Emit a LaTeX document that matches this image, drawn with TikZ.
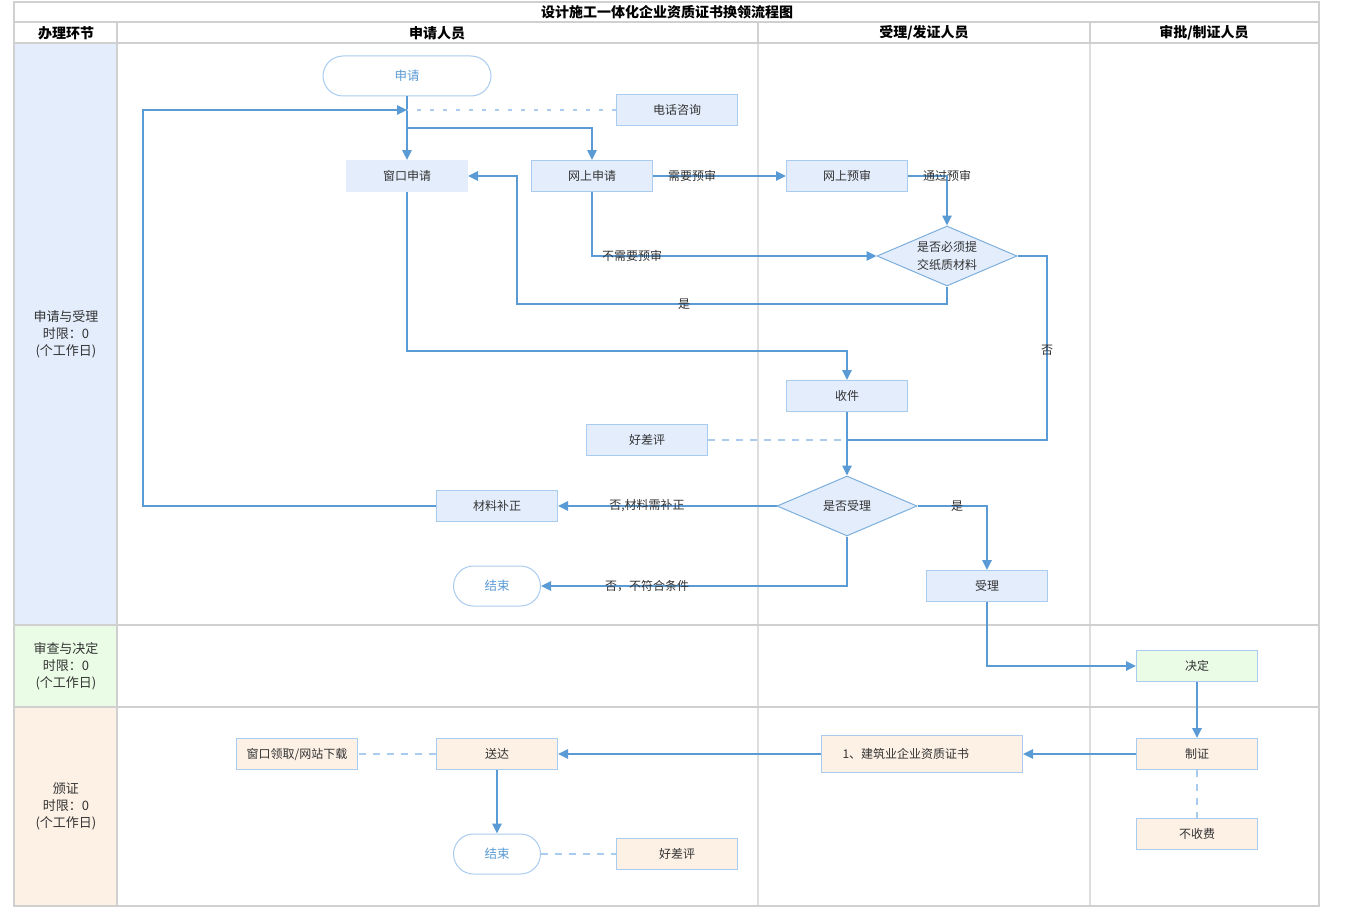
\documentclass[tikz,border=0pt]{standalone}
\usepackage{fontspec}
\setmainfont{Noto Sans CJK SC}
\usetikzlibrary{arrows.meta,shapes.geometric}
\definecolor{lineblue}{HTML}{5B9BD5}
\definecolor{dashblue}{HTML}{A8CBEE}
\definecolor{boxline}{HTML}{A9CBEF}
\definecolor{bluefill}{HTML}{E3EDFC}
\definecolor{greenfill}{HTML}{EAFCE6}
\definecolor{orangefill}{HTML}{FDF1E6}
\definecolor{grid}{HTML}{D0D0D0}
\definecolor{gridlight}{HTML}{DEDEDE}
\definecolor{txt}{HTML}{333333}
\begin{document}
\begin{tikzpicture}[x=1pt,y=-1pt,
  box/.style={draw=boxline, fill=bluefill, line width=1pt, minimum width=121pt, minimum height=31pt, inner sep=0pt, text=txt, font=\fontsize{12}{14}\selectfont},
  gbox/.style={box, fill=greenfill},
  obox/.style={box, fill=orangefill},
  term/.style={draw=boxline, fill=white, line width=1pt, rounded corners=20pt, minimum height=40pt, inner sep=0pt, text=lineblue, font=\fontsize{12.5}{14}\selectfont},
  dec/.style={diamond, draw=lineblue!80, fill=bluefill, line width=1pt, aspect=2.33, inner sep=0pt, minimum width=140pt, minimum height=60pt, text=txt, font=\fontsize{12}{18}\selectfont, align=center},
  flow/.style={draw=lineblue, line width=1.7pt, -{Triangle[length=10pt,width=9.5pt]}},
  plain/.style={draw=lineblue, line width=1.7pt},
  dline/.style={draw=dashblue, line width=1.7pt, dash pattern=on 7pt off 7pt},
  lbl/.style={inner sep=0pt, text=txt, font=\fontsize{12}{14}\selectfont},
  hdr/.style={inner sep=0pt, text=black, font=\fontsize{14}{16}\selectfont\bfseries},
  lane/.style={inner sep=0pt, text=txt, align=center, font=\fontsize{13}{17}\selectfont}
]
\useasboundingbox (0,0) rectangle (1350,907);
% lane label backgrounds
\fill[bluefill] (15,43) rectangle (117,625);
\fill[greenfill] (15,625) rectangle (117,707);
\fill[orangefill] (15,707) rectangle (117,906);
% inner column lines
\draw[gridlight, line width=1.5pt] (758,43) -- (758,906);
\draw[gridlight, line width=1.5pt] (1090,43) -- (1090,906);
% table lines
\draw[grid, line width=2pt] (14,2) rectangle (1319,906);
\draw[grid, line width=2pt] (14,22) -- (1319,22);
\draw[grid, line width=2pt] (14,43) -- (1319,43);
\draw[grid, line width=2pt] (14,625) -- (1319,625);
\draw[grid, line width=2pt] (14,707) -- (1319,707);
\draw[grid, line width=2pt] (117,22) -- (117,906);
\draw[grid, line width=2pt] (758,22) -- (758,43);
\draw[grid, line width=2pt] (1090,22) -- (1090,43);
% headers
\node[hdr] (title) at (667,12.5) {设计施工一体化企业资质证书换领流程图};
\node[hdr] (h0) at (66,33) {办理环节};
\node[hdr] (h1) at (437,33) {申请人员};
\node[hdr] (h2) at (924,33) {受理/发证人员};
\node[hdr] (h3) at (1204,33) {审批/制证人员};
\node[lane] (l1) at (66,334) {申请与受理\\时限：0\\(个工作日)};
\node[lane] (l2) at (66,666) {审查与决定\\时限：0\\(个工作日)};
\node[lane] (l3) at (66,806) {颁证\\时限：0\\(个工作日)};
% nodes
\node[term, minimum width=168pt] (start) at (407,76) {申请};
\node[box] (phone) at (677,110) {电话咨询};
\node[box, draw=bluefill] (wck) at (407,176) {窗口申请};
\node[box] (wsq) at (592,176) {网上申请};
\node[box] (wys) at (847,176) {网上预审};
\node[dec] (d1) at (947,256) {是否必须提\\交纸质材料};
\node[box] (sj) at (847,396) {收件};
\node[box] (hp1) at (647,440) {好差评};
\node[dec] (d2) at (847,506) {是否受理};
\node[box] (bz) at (497,506) {材料补正};
\node[term, minimum width=87pt] (end1) at (497,586) {结束};
\node[box] (sl) at (987,586) {受理};
\node[gbox] (jd) at (1197,666) {决定};
\node[obox] (zz) at (1197,754) {制证};
\node[obox] (bsf) at (1197,834) {不收费};
\node[obox, minimum width=201pt, minimum height=37pt, text width=159pt, align=left] (cert) at (922,754) {1、建筑业企业资质证书};
\node[obox] (sd) at (497,754) {送达};
\node[obox] (lq) at (297,754) {窗口领取/网站下载};
\node[term, minimum width=87pt] (end2) at (497,854) {结束};
\node[obox] (hp2) at (677,854) {好差评};
% helper coordinates
\coordinate (j1) at (407,110);
\coordinate (b1) at (407,128);
\coordinate (loopL) at (143,506);
\coordinate (c2) at (517,304);
\coordinate (c3) at (1047,440);
\coordinate (c4) at (407,351);
% connectors
\draw[flow] (start.south) -- (wck.north);
\draw[flow] (b1) -| (wsq.north);
\draw[flow] (bz.west) -- (loopL) |- (j1);
\draw[dline, dash pattern=on 4pt off 9pt] (phone.west) -- (j1);
\draw[flow] (wsq.east) -- (wys.west);
\draw[flow] (wys.east) -| (d1.north);
\draw[flow] (wsq.south) |- (d1.west);
\draw[flow] (d1.south) |- (c2) |- (wck.east);
\draw[plain] (d1.east) -| (c3) -- (c3 -| sj.south);
\draw[flow] (wck.south) -- (c4) -| (sj.north);
\draw[flow] (sj.south) -- (d2.north);
\draw[dline] (hp1.east) -- (hp1.east -| sj.south);
\draw[flow] (d2.west) -- (bz.east);
\draw[flow] (d2.south) |- (end1.east);
\draw[flow] (d2.east) -| (sl.north);
\draw[flow] (sl.south) |- (jd.west);
\draw[flow] (jd.south) -- (zz.north);
\draw[flow] (zz.west) -- (cert.east);
\draw[flow] (cert.west) -- (sd.east);
\draw[dline] (sd.west) -- (lq.east);
\draw[flow] (sd.south) -- (end2.north);
\draw[dline] (end2.east) -- (hp2.west);
\draw[dline] (zz.south) -- (bsf.north);
% labels
\node[lbl] (t1) at (692,176) {需要预审};
\node[lbl] (t2) at (947,176) {通过预审};
\node[lbl] (t3) at (632,256) {不需要预审};
\node[lbl] (t4) at (684,304) {是};
\node[lbl] (t5) at (1047,350) {否};
\node[lbl] (t6) at (647,506) {否,材料需补正};
\node[lbl] (t7) at (647,586) {否，不符合条件};
\node[lbl] (t8) at (957,506) {是};
\end{tikzpicture}
\end{document}
